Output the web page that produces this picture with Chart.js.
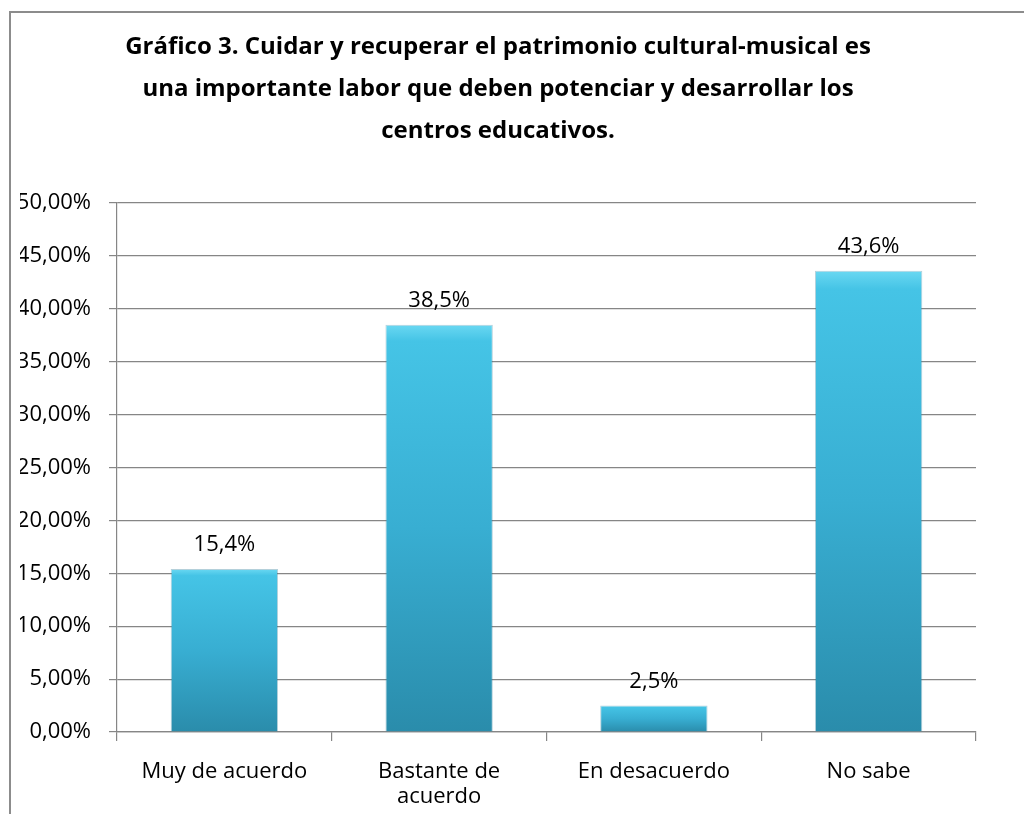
<!DOCTYPE html>
<html>
<head>
<meta charset="utf-8">
<script src="https://cdn.jsdelivr.net/npm/chart.js@4"></script>
<style>
	html, body { margin: 0; padding: 0; background: #fff; }
	#wrap { position: relative; width: 1024px; height: 814px; overflow: hidden; }
	#frame { position: absolute; left: 9px; top: 11px; right: -4px; bottom: -4px; border-top: 2px solid #8c8c8c; border-left: 2px solid #8c8c8c; }
	canvas { position: absolute; left: 0; top: 0; }
</style>
</head>
<body>
<div id="wrap">
	<div id="frame"></div>
	<canvas id="chart" width="1024" height="814"></canvas>
</div>
<script>
// Data.
var categories = ['Muy de acuerdo', ['Bastante de', 'acuerdo'], 'En desacuerdo', 'No sabe'];
var values = [15.4, 38.5, 2.5, 43.6];
var titleLines = [
	'Gráfico 3. Cuidar y recuperar el patrimonio cultural-musical es',
	'una importante labor que deben potenciar y desarrollar los',
	'centros educativos.'
];
var yMax = 50;
var yStep = 5;

var FONT = '"Open Sans", "Liberation Sans", sans-serif';

function comma(v, d) {
	return v.toFixed(d).replace('.', ',');
}

// Value labels above bars.
var valueLabels = {
	id: 'valueLabels',
	afterDatasetsDraw: function(chart) {
		var ctx = chart.ctx;
		var meta = chart.getDatasetMeta(0);
		ctx.save();
		ctx.font = '22px ' + FONT;
		ctx.fillStyle = '#000';
		ctx.textAlign = 'center';
		ctx.textBaseline = 'middle';
		meta.data.forEach(function(bar, i) {
			ctx.fillText(comma(values[i], 1) + '%', bar.x, bar.y - 24);
		});
		ctx.restore();
	}
};

function barFill(context) {
	var chart = context.chart;
	if (!chart.chartArea) return '#3bb4d8';
	var y = chart.scales.y;
	var top = y.getPixelForValue(values[context.dataIndex]);
	var bottom = y.getPixelForValue(0);
	var g = chart.ctx.createLinearGradient(0, top, 0, bottom);
	g.addColorStop(0, '#6ad8f2');
	g.addColorStop(0.04, '#45c4e6');
	g.addColorStop(0.5, '#38aed2');
	g.addColorStop(1, '#2a8cab');
	return g;
}

new Chart(document.getElementById('chart'), {
	type: 'bar',
	data: {
		labels: categories,
		datasets: [{
			data: values,
			backgroundColor: barFill,
			borderColor: 'rgba(40, 120, 150, 0.35)',
			borderWidth: 1,
			borderSkipped: 'bottom',
			categoryPercentage: 0.5,
			barPercentage: 1
		}]
	},
	options: {
		responsive: false,
		animation: false,
		layout: { padding: { left: 20, right: 48, top: 0, bottom: 0 } },
		plugins: {
			legend: { display: false },
			tooltip: { enabled: false },
			title: {
				display: true,
				text: titleLines,
				color: '#000',
				font: { family: FONT, size: 24, weight: 'bold', lineHeight: 1.75 },
				padding: { top: 26, bottom: 51 }
			}
		},
		scales: {
			y: {
				min: 0,
				max: yMax,
				ticks: {
					stepSize: yStep,
					color: '#000',
					padding: 18,
					font: { family: FONT, size: 22 },
					callback: function(v) { return comma(v, 2) + '%'; }
				},
				grid: { color: '#868686', lineWidth: 1.2, tickLength: 8 },
				border: { display: true, color: '#868686', width: 1.2 },
				afterFit: function(scale) { scale.width = 97; }
			},
			x: {
				ticks: {
					color: '#000',
					padding: 18,
					maxRotation: 0,
					autoSkip: false,
					font: { family: FONT, size: 22, lineHeight: 1.15 }
				},
				grid: { drawOnChartArea: false, color: '#868686', lineWidth: 1.2, tickLength: 9 },
				border: { display: true, color: '#868686', width: 1.2 },
				afterFit: function(scale) { scale.height = 82; }
			}
		}
	},
	plugins: [valueLabels]
});
</script>
</body>
</html>
